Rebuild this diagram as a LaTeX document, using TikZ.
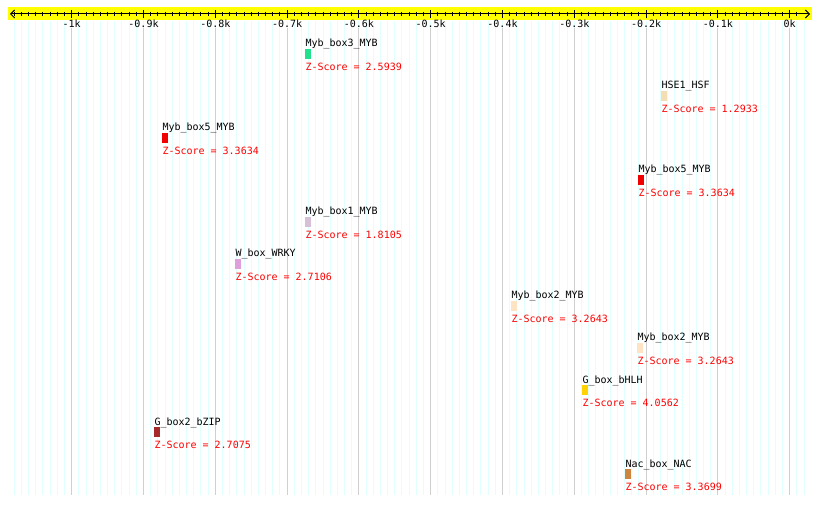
\documentclass[tikz,border=0pt]{standalone}
\usepackage{fontspec}
\setmonofont{DejaVu Sans Mono}
\usepackage{tikz}
\usetikzlibrary{arrows.meta}
\definecolor{rulerYellow}{HTML}{FFFF00}
\definecolor{gridCyan}{HTML}{E0FFFF}
\definecolor{gridGray}{HTML}{D0D0D0}
\definecolor{scoreRed}{HTML}{FF0000}
\definecolor{mybThree}{HTML}{22E08C}
\definecolor{hseWheat}{HTML}{F5DEB3}
\definecolor{mybFive}{HTML}{F00000}
\definecolor{mybOne}{HTML}{D8BFD8}
\definecolor{wboxPlum}{HTML}{DDA0DD}
\definecolor{mybTwo}{HTML}{FFE4C4}
\definecolor{gboxGold}{HTML}{FFD200}
\definecolor{bzipBrown}{HTML}{A52A2A}
\definecolor{nacPeru}{HTML}{CD853F}

\begin{document}
\begin{tikzpicture}[x=1pt, y=-1pt, line width=1pt,
    lbl/.style={anchor=base west, inner sep=0pt, font=\ttfamily\fontsize{10}{12}\selectfont},
    score/.style={lbl, text=scoreRed},
    ticklbl/.style={anchor=center, inner sep=0pt, font=\ttfamily\fontsize{10}{12}\selectfont}]
    \useasboundingbox (0,0) rectangle (820,505);

    % background grid, one line per 10 bp
    \foreach \k in {-108,...,2}
        \draw[gridCyan] ({789.7+7.18*\k},21) -- ({789.7+7.18*\k},495);
    \foreach \k in {-10,...,0}
        \draw[gridGray] ({789.7+71.8*\k},28) -- ({789.7+71.8*\k},495);

    % ruler
    \fill[rulerYellow] (8,7) rectangle (812,20.5);
    \coordinate (rulerL) at (10,14);
    \coordinate (rulerR) at (810,14);
    \draw[{Straight Barb[length=4pt,width=8pt]}-{Straight Barb[length=4pt,width=8pt]}] (rulerL) -- (rulerR);
    \foreach \k in {-108,...,1}
        \draw ({789.7+7.18*\k},12) -- ++(0,4.5);
    \foreach \k/\t in {-10/-1k, -9/-0.9k, -8/-0.8k, -7/-0.7k, -6/-0.6k, -5/-0.5k,
                       -4/-0.4k, -3/-0.3k, -2/-0.2k, -1/-0.1k, 0/0k} {
        \draw ({789.7+71.8*\k},10) -- ++(0,8.5);
        \node[ticklbl] (tick\k) at ({789.7+71.8*\k},24) {\t};
    }

    % motifs: row / left edge / colour / name / score
    \foreach \i/\px/\col/\name/\z in {
        0/305/mybThree/Myb\_box3\_MYB/2.5939,
        1/661/hseWheat/HSE1\_HSF/1.2933,
        2/162/mybFive/Myb\_box5\_MYB/3.3634,
        3/638/mybFive/Myb\_box5\_MYB/3.3634,
        4/305/mybOne/Myb\_box1\_MYB/1.8105,
        5/235/wboxPlum/W\_box\_WRKY/2.7106,
        6/511/mybTwo/Myb\_box2\_MYB/3.2643,
        7/637/mybTwo/Myb\_box2\_MYB/3.2643,
        8/582/gboxGold/G\_box\_bHLH/4.0562,
        9/154/bzipBrown/G\_box2\_bZIP/2.7075,
        10/625/nacPeru/Nac\_box\_NAC/3.3699} {
        \node[lbl] (motif\i) at (\px,{47+42*\i}) {\name};
        \fill[\col] (\px,{49+42*\i}) rectangle ++(5.5,10);
        \node[score] (score\i) at (\px,{70.5+42*\i}) {Z-Score = \z};
    }
\end{tikzpicture}
\end{document}
